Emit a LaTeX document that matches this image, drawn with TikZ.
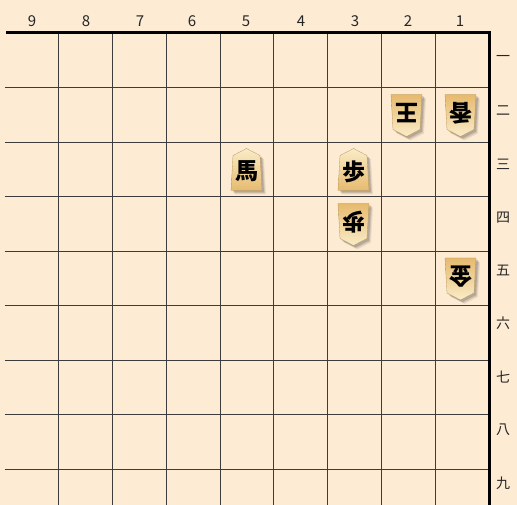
\documentclass[tikz,border=0pt]{standalone}
\usepackage{fontspec}
\newfontfamily\cjk{Noto Sans CJK JP}
\definecolor{boardbg}{RGB}{253,235,211}
\definecolor{gridc}{RGB}{60,60,60}
\definecolor{piecelight}{RGB}{250,236,200}
\definecolor{piecedark}{RGB}{230,186,110}
\tikzset{
  gridline/.style={gridc, line width=0.8pt},
  border/.style={black, line width=3pt},
  collabel/.style={font=\cjk\fontsize{15}{15}\selectfont, text=black!85, inner sep=0pt},
  rowlabel/.style={font=\cjk\fontsize{14}{14}\selectfont, text=black!85, inner sep=0pt},
  piecechar/.style={font=\cjk\bfseries\fontsize{23}{23}\selectfont, text=black, inner sep=0pt},
}
% #1 name, #2 x, #3 y, #4 sign (1 sente, -1 gote), #5 character
\newcommand\shogipiece[5]{%
  \begin{scope}[shift={(#2,#3)}]
    \foreach \o/\a in {4/0.07,3/0.10,2/0.14}{
      \fill[black, opacity=\a, shift={(\o,\o)}]
        (0,{-21*#4}) -- ({13.5*#4},{-14*#4}) -- ({15.5*#4},{21*#4}) -- ({-15.5*#4},{21*#4}) -- ({-13.5*#4},{-14*#4}) -- cycle;
    }
    \ifnum#4=1
      \shade[top color=piecelight, bottom color=piecedark, draw=piecedark!80!black, line width=0.3pt]
        (0,-21) -- (13.5,-14) -- (15.5,21) -- (-15.5,21) -- (-13.5,-14) -- cycle;
    \else
      \shade[top color=piecedark, bottom color=piecelight, draw=piecedark!80!black, line width=0.3pt]
        (0,21) -- (-13.5,14) -- (-15.5,-21) -- (15.5,-21) -- (13.5,14) -- cycle;
    \fi
    \node[piecechar, rotate={90-90*#4}] (#1) at (0,{2*#4}) {#5};
  \end{scope}}
\begin{document}
\begin{tikzpicture}[x=1pt,y=-1pt]
  \fill[boardbg] (0,0) rectangle (517,505);
  \useasboundingbox (0,0) rectangle (517,505);
  % grid
  \foreach \i in {1,...,8}{
    \draw[gridline] ({4.8+53.8*\i},33) -- ({4.8+53.8*\i},505);
  }
  \foreach \j in {1,...,8}{
    \draw[gridline] (4.8,{33+54.5*\j}) -- (489,{33+54.5*\j});
  }
  \coordinate (tl) at (6,33);
  \coordinate (tr) at (489,33);
  \coordinate (br) at (489,505);
  \draw[border] (tl) -- (tr) -- (br);
  % column labels
  \foreach \c/\xx in {9/32,8/86,7/140,6/192,5/246,4/301,3/355,2/408,1/460}{
    \node[collabel] (col\c) at (\xx,21) {\c};
  }
  % row labels
  \foreach \k/\t in {0/一,1/二,2/三,3/四,4/五,5/六,6/七,7/八,8/九}{
    \node[rowlabel] (row\k) at (503,{58+53.1*\k}) {\t};
  }
  % pieces
  \shogipiece{p22}{406.5}{115.5}{-1}{王}
  \shogipiece{p12}{460.5}{115.5}{-1}{香}
  \shogipiece{p53}{246.5}{169.5}{1}{馬}
  \shogipiece{p33}{353.5}{169.5}{1}{歩}
  \shogipiece{p34}{353.5}{224.5}{-1}{歩}
  \shogipiece{p15}{460.5}{279}{-1}{金}
\end{tikzpicture}
\end{document}
